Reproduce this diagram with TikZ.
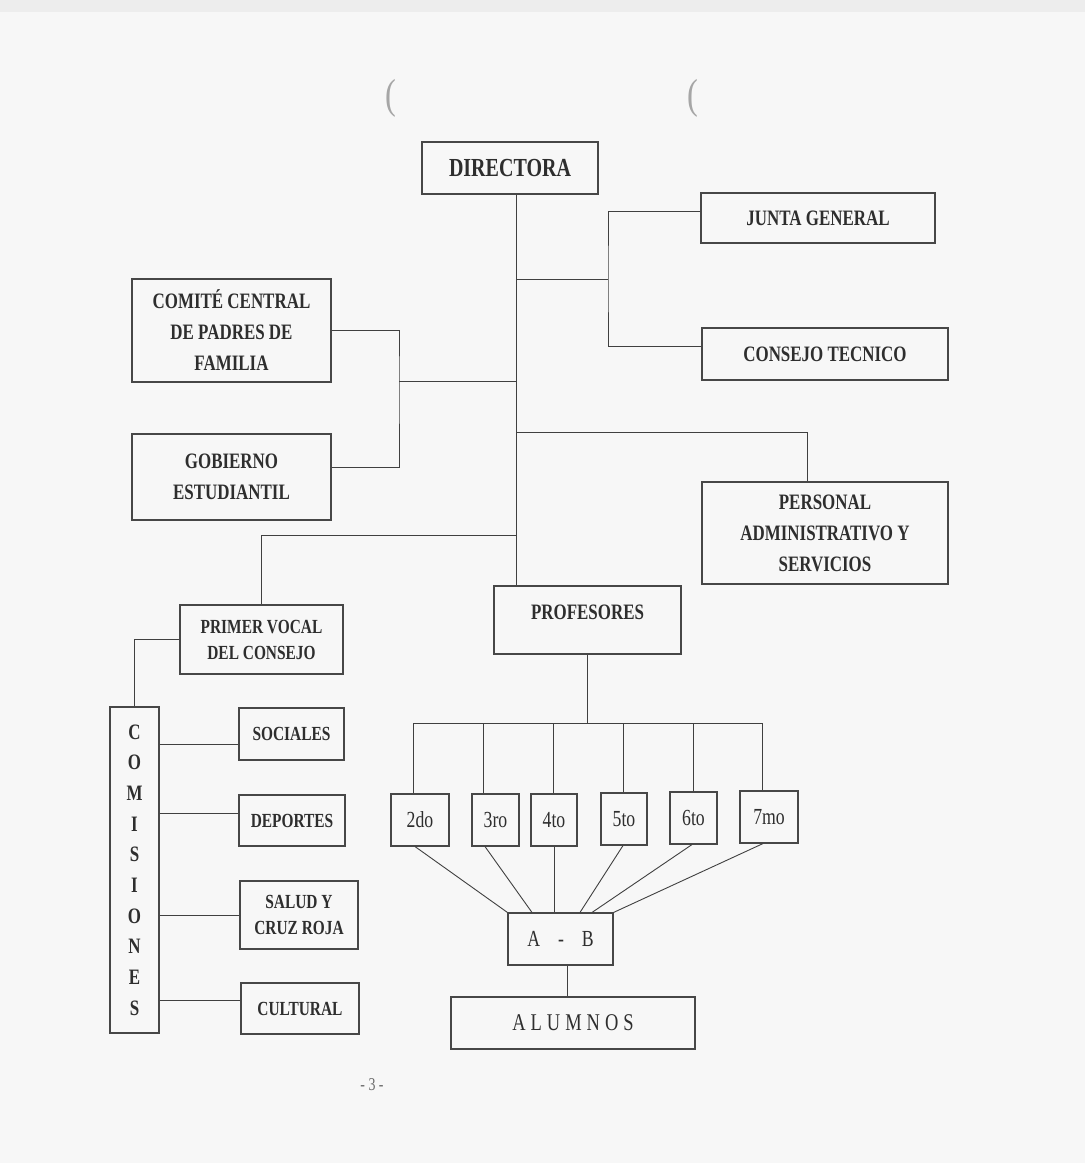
\documentclass[tikz,border=0pt]{standalone}
\usepackage{fontspec}
\setmainfont{Liberation Serif}[FakeStretch=0.77]
\begin{document}
\begin{tikzpicture}[x=1pt,y=-1pt,
  box/.style={draw=black!72, line width=1.1pt, align=center, inner sep=0pt,
    text=black!82, font=\bfseries\fontsize{22}{31}\selectfont},
  smallbox/.style={box, font=\bfseries\fontsize{20}{26}\selectfont},
  gradebox/.style={box, minimum height=52, font=\fontsize{23}{28}\selectfont},
  link/.style={draw=black!75, line width=0.9pt}]

% paper
\fill[black!3] (0,0) rectangle (1085,1163);
\fill[black!7] (0,0) rectangle (1085,12);
\useasboundingbox (0,0) rectangle (1085,1163);

% scan marks at the top
\node[text=black!35, font=\fontsize{42}{42}\selectfont] (p1) at (391,98) {(};
\node[text=black!35, font=\fontsize{42}{42}\selectfont] (p2) at (693,98) {(};

% boxes
\node[box, minimum width=176, minimum height=52, font=\bfseries\fontsize{26}{30}\selectfont] (dir) at (510,168) {DIRECTORA};
\node[box, minimum width=234, minimum height=50] (junta) at (818,218) {JUNTA GENERAL};
\node[box, minimum width=246, minimum height=52] (consejo) at (825,354) {CONSEJO TECNICO};
\node[box, minimum width=199, minimum height=103] (comite) at (231.5,330.5) {COMITÉ CENTRAL\\DE PADRES DE\\FAMILIA};
\node[box, minimum width=199, minimum height=86] (gobierno) at (231.5,477) {GOBIERNO\\ESTUDIANTIL};
\node[box, minimum width=246, minimum height=102] (personal) at (825,533) {PERSONAL\\ADMINISTRATIVO Y\\SERVICIOS};
\node[box, minimum width=187, minimum height=68, text depth=15pt] (prof) at (587.5,620) {PROFESORES};
\node[smallbox, minimum width=163, minimum height=69] (vocal) at (261.5,639.5) {PRIMER VOCAL\\DEL CONSEJO};
\node[box, minimum width=49, minimum height=326, font=\bfseries\fontsize{22}{30.7}\selectfont] (comis) at (134.5,870) {C\\O\\M\\I\\S\\I\\O\\N\\E\\S};
\node[smallbox, minimum width=105, minimum height=52] (soc) at (291.5,734) {SOCIALES};
\node[smallbox, minimum width=106, minimum height=51] (dep) at (292,820.5) {DEPORTES};
\node[smallbox, minimum width=118, minimum height=68] (salud) at (299,915) {SALUD Y\\CRUZ ROJA};
\node[smallbox, minimum width=118, minimum height=51] (cult) at (300,1008.5) {CULTURAL};

\node[gradebox, minimum width=58] (g2) at (420,820) {2do};
\node[gradebox, minimum width=47] (g3) at (495.5,820) {3ro};
\node[gradebox, minimum width=46] (g4) at (554,820) {4to};
\node[gradebox, minimum width=46] (g5) at (624,819) {5to};
\node[gradebox, minimum width=47] (g6) at (693.5,818) {6to};
\node[gradebox, minimum width=58] (g7) at (769,817) {7mo};

\node[box, minimum width=105, minimum height=52, font=\fontsize{23}{28}\selectfont] (ab) at (560.5,939) {A\hspace{18pt}-\hspace{18pt}B};
\node[box, minimum width=244, minimum height=52, font=\fontsize{24}{28}\selectfont] (alum) at (573,1023) {A\hspace{5pt}L\hspace{5pt}U\hspace{5pt}M\hspace{5pt}N\hspace{5pt}O\hspace{5pt}S};

\node[text=black!60, font=\fontsize{18}{18}\selectfont] (page) at (372,1085) {- 3 -};

% main trunk
\coordinate (t) at (516,0);
\draw[link] (dir.south -| t) -- (prof.north -| t);

% junta general and consejo tecnico
\coordinate (jb) at (608,279);
\draw[link] (jb -| t) -- (jb);
\draw[link] ([yshift=7pt]junta.west) -| (jb) |- ([yshift=8pt]consejo.west);

% comite central and gobierno estudiantil
\coordinate (cb) at (399,381);
\draw[link] (cb -| t) -- (cb);
\draw[link] (comite.east) -| (cb) |- ([yshift=10pt]gobierno.east);

% personal administrativo
\coordinate (pb) at (516,432);
\draw[link] (pb) -| ([xshift=-18pt]personal.north);

% primer vocal and comisiones
\coordinate (vb) at (516,535);
\draw[link] (vb) -| (vocal.north);
\draw[link] (vocal.west) -| (comis.north);
\path ([yshift=-10pt]soc.west) coordinate (s1)
      ([yshift=7.5pt]dep.west) coordinate (s2)
      (salud.west) coordinate (s3)
      ([yshift=8.5pt]cult.west) coordinate (s4);
\foreach \s in {s1,s2,s3,s4} \draw[link] (\s -| comis.east) -- (\s);

% grades
\coordinate (bus) at (0,723);
\draw[link] (prof.south) -- (prof.south |- bus);
\draw[link] ([xshift=-7pt]g2.north |- bus) -- ([xshift=-7pt]g7.north |- bus);
\foreach \g/\dx in {g2/-7,g3/-12.5,g4/-1,g5/-1,g6/-0.5,g7/-7}
  \draw[link] ([xshift=\dx pt]\g.north |- bus) -- ([xshift=\dx pt]\g.north);

% grades to sections
\draw[link] ([xshift=-5pt]g2.south) -- (ab.north west);
\draw[link] ([xshift=-10.5pt]g3.south) -- ([xshift=-28.5pt]ab.north);
\draw[link] (g4.south) -- ([xshift=-6.5pt]ab.north);
\draw[link] ([xshift=-1pt]g5.south) -- ([xshift=19.5pt]ab.north);
\draw[link] ([xshift=-1.5pt]g6.south) -- ([xshift=31.5pt]ab.north);
\draw[link] ([xshift=-6pt]g7.south) -- (ab.north east);

% sections to alumnos
\draw[link] ([xshift=6.5pt]ab.south) -- ([xshift=6.5pt]ab.south |- alum.north);
\end{tikzpicture}
\end{document}
